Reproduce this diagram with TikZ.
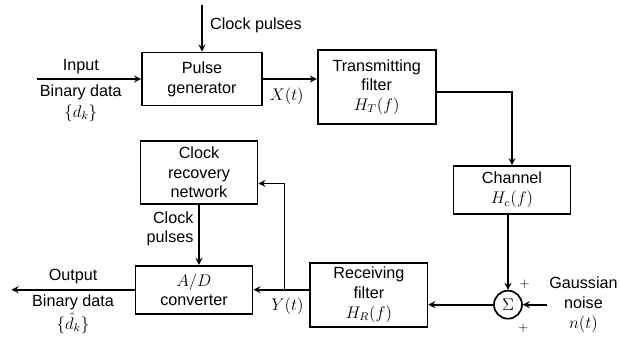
\documentclass[tikz,border=0pt]{standalone}
\usepackage{fontspec}
\setmainfont{Liberation Sans}
\usetikzlibrary{shapes.geometric, arrows}
\usetikzlibrary{positioning}

\tikzset{
  blk/.style={draw, line width=1.2pt, align=center, minimum width=2.93cm, inner sep=1pt},
  sig/.style={-stealth, line width=1.2pt}
}

\begin{document}
\begin{tikzpicture}[font=\fontsize{11.5}{14}\selectfont]
        \useasboundingbox (0,0) rectangle (15.5,-8.475);
        \node[blk,minimum width=3cm,minimum height=1.33cm] (pg) at (5.05,-1.975) {Pulse\\generator};
        \node[blk,minimum width=2.95cm,minimum height=1.85cm, right=1.35cm of pg, yshift=-0.2cm] (tf) {Transmitting\\filter\\$H_T(f)$};
        \node[blk,minimum height=1.2cm, right=0.4cm of tf, yshift=-2.575cm] (ch) {Channel\\$H_c(f)$};
        \node[draw, circle, line width=1.2pt, minimum size=0.7cm, inner sep=0pt, below=1.875cm of ch, xshift=-0.1cm] (sum) {$\Sigma$};
        \node[blk,minimum height=1.6cm, left=1.72cm of sum, yshift=0.25cm, xshift=0.1cm] (rf) {Receiving\\filter\\$H_R(f)$};
        \node[blk,minimum height=1.2cm, left=1.4cm of rf, yshift=0.125cm] (ad) {$A/D$\\converter};
        \node[blk,minimum height=1.58cm, above=1.5cm of ad, xshift=0.125cm] (cr) {Clock\\recovery\\network};

         %% Transmitter side
         \coordinate[above=1.175cm of pg] (clk);
         \draw[sig] (clk) -- (pg);
         \node[below right=0.2cm and 0.08cm of clk] (clklbl) {Clock pulses};

         \coordinate[left=2.6cm of pg] (in);
         \draw[sig] (in) -- node[pos=0.42, above] (inlbl) {Input} node[pos=0.42, below, align=center] (bdlbl) {Binary data\\[1pt]$\{d_k\}$} (pg);

         \draw[sig] (pg) -- (pg -| tf.west);
         \node[below right=0.1cm and 0.05cm of pg.east] (xlbl) {$X(t)$};

         \draw[sig] ([yshift=-0.12cm]tf.east) -| (ch);
         \draw[sig] (ch.south -| sum) -- (sum);

         %% Noise
         \coordinate[right=0.6cm of sum] (nz);
         \draw[sig] (nz) -- (sum);
         \node[right=0.02cm of nz, align=center, inner sep=1pt] (nzlbl) {Gaussian\\noise\\$n(t)$};
         \node[font=\small] (pl1) at ([shift={(0.42,0.5)}]sum) {$+$};
         \node[font=\small] (pl2) at ([shift={(0.38,-0.6)}]sum) {$+$};

         %% Receiver side
         \draw[sig] (sum) -- (sum -| rf.east);
         \draw[sig] (ad -| rf.west) -- (ad);
         \coordinate[right=0.775cm of ad.east] (br);
         \draw[sig] (br) |- ([yshift=-0.275cm]cr.east);
         \node[below right=0.08cm and -0.45cm of br] (ylbl) {$Y(t)$};

         \draw[sig] (cr) -- (cr |- ad.north) node[pos=0.4, left, align=right] (cplbl) {Clock\\pulses};

         \coordinate[left=3.075cm of ad] (out);
         \draw[sig] (ad) -- node[pos=0.5, above] (outlbl) {Output} node[pos=0.5, below, align=center] (bd2lbl) {Binary data\\[2pt]$\{\hat d_k\}$} (out);
\end{tikzpicture}
\end{document}
